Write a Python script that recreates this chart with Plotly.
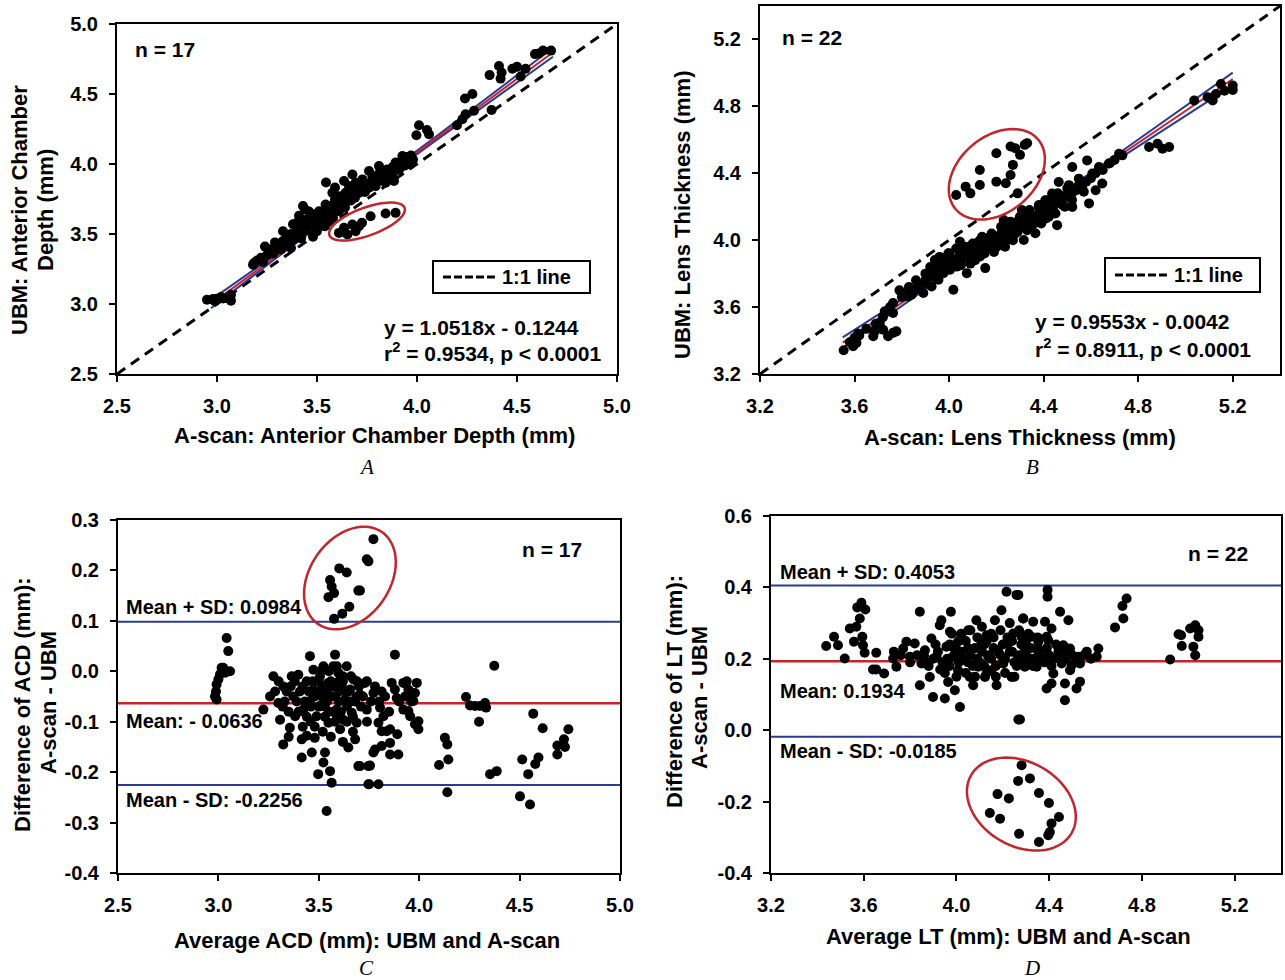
import math
import plotly.graph_objects as go

W, H = 1285, 980

# ------------------------------------------------------------------ data
acd_ticks = [2.5, 3.0, 3.5, 4.0, 4.5, 5.0]
lt_ticks = [3.2, 3.6, 4.0, 4.4, 4.8, 5.2]
acd_diff_ticks = [-0.4, -0.3, -0.2, -0.1, 0.0, 0.1, 0.2, 0.3]
lt_diff_ticks = [-0.4, -0.2, 0.0, 0.2, 0.4, 0.6]
acd_tick_labels = ["2.5", "3.0", "3.5", "4.0", "4.5", "5.0"]
lt_tick_labels = ["3.2", "3.6", "4.0", "4.4", "4.8", "5.2"]
acd_diff_labels = ["-0.4", "-0.3", "-0.2", "-0.1", "0.0", "0.1", "0.2", "0.3"]
lt_diff_labels = ["-0.4", "-0.2", "0.0", "0.2", "0.4", "0.6"]

# Panel A: (A-scan ACD, UBM ACD)
acd_points = [
    (2.95, 3.03), (2.98, 3.035), (3.0, 3.037), (3.03, 3.04), (3.04, 3.042), (3.06, 3.042),
    (3.07, 3.023), (3.07, 3.066), (2.99, 3.02), (3.02, 3.05),
    (3.18, 3.28), (3.185, 3.293), (3.23, 3.30), (3.24, 3.41), (3.26, 3.37), (3.29, 3.44),
    (3.33, 3.52), (3.32, 3.39), (3.36, 3.44), (3.38, 3.57), (3.39, 3.48), (3.41, 3.63),
    (3.43, 3.70), (3.44, 3.675), (3.46, 3.58), (3.48, 3.48), (3.49, 3.60), (3.53, 3.65),
    (3.54, 3.555), (3.56, 3.70), (3.58, 3.615), (3.59, 3.747), (3.61, 3.663),
    (3.3, 3.40), (3.35, 3.47), (3.37, 3.5), (3.4, 3.52), (3.42, 3.55), (3.45, 3.53),
    (3.47, 3.56), (3.5, 3.58), (3.52, 3.6), (3.55, 3.62), (3.57, 3.66), (3.6, 3.68),
    (3.62, 3.7), (3.44, 3.6), (3.5, 3.64), (3.53, 3.56), (3.4, 3.58), (3.28, 3.36),
    (3.33, 3.45), (3.46, 3.66), (3.56, 3.6), (3.63, 3.72), (3.65, 3.75), (3.66, 3.78),
    (3.68, 3.8), (3.7, 3.82), (3.72, 3.84), (3.75, 3.86), (3.78, 3.88), (3.8, 3.9),
    (3.82, 3.93), (3.85, 3.96), (3.88, 3.98), (3.9, 4.0), (3.93, 4.03), (3.95, 4.05),
    (3.97, 4.06), (3.98, 4.03), (3.96, 4.0), (3.94, 3.99), (3.91, 3.96), (3.87, 3.93),
    (3.84, 3.9), (3.79, 3.85), (3.74, 3.8), (3.69, 3.76), (3.64, 3.69),
    (3.2, 3.31), (3.22, 3.33), (3.25, 3.35), (3.27, 3.39), (3.29, 3.38), (3.31, 3.42),
    (3.34, 3.42), (3.36, 3.48), (3.38, 3.46), (3.41, 3.5), (3.43, 3.52), (3.45, 3.56),
    (3.47, 3.6), (3.49, 3.56), (3.51, 3.6), (3.52, 3.63), (3.54, 3.66), (3.56, 3.65),
    (3.58, 3.7), (3.6, 3.72), (3.62, 3.74), (3.64, 3.76), (3.67, 3.74), (3.69, 3.8),
    (3.71, 3.83), (3.73, 3.86), (3.76, 3.83), (3.78, 3.9), (3.81, 3.93), (3.83, 3.88),
    (3.86, 3.92), (3.89, 3.95), (3.92, 3.98), (3.95, 4.02), (3.48, 3.64), (3.55, 3.68),
    (3.61, 3.74), (3.5, 3.52), (3.42, 3.47), (3.37, 3.4),
    (3.51, 3.663), (3.543, 3.71), (3.577, 3.794), (3.61, 3.77), (3.635, 3.878),
    (3.677, 3.925), (3.693, 3.866), (3.727, 3.89), (3.76, 3.95), (3.777, 3.913),
    (3.81, 3.985), (3.827, 3.938), (3.86, 3.95), (3.885, 3.878), (3.893, 4.01),
    (3.927, 4.057), (3.952, 4.02), (3.977, 4.033), (3.918, 3.985), (3.71, 3.794),
    (3.743, 3.842), (3.643, 3.794), (3.593, 3.734), (3.66, 3.842), (3.843, 3.866),
    (3.877, 3.913), (3.793, 3.842), (3.545, 3.868), (3.59, 3.832),
    (4.01, 4.277), (4.05, 4.243), (3.997, 4.205), (4.06, 4.212), (4.243, 4.355),
    (4.227, 4.32), (4.20, 4.277), (4.285, 4.38), (4.373, 4.386), (4.24, 4.468),
    (4.277, 4.50), (4.363, 4.635), (4.41, 4.70), (4.423, 4.654), (4.418, 4.61),
    (4.477, 4.68), (4.50, 4.694), (4.543, 4.68), (4.518, 4.625), (4.59, 4.785),
    (4.63, 4.81), (4.67, 4.81), (4.61, 4.79),
]
acd_outliers = [
    (3.627, 3.52), (3.652, 3.496), (3.61, 3.508), (3.635, 3.544), (3.677, 3.567),
    (3.71, 3.555), (3.693, 3.52), (3.725, 3.58), (3.768, 3.627), (3.843, 3.646),
    (3.893, 3.651),
]

# Panel B: (A-scan LT, UBM LT)
lt_points = [
    (3.554, 3.342), (3.594, 3.366), (3.608, 3.386), (3.615, 3.442), (3.6, 3.416),
    (3.679, 3.426), (3.686, 3.455), (3.707, 3.505), (3.721, 3.465), (3.742, 3.426),
    (3.763, 3.446), (3.777, 3.455), (3.728, 3.575), (3.763, 3.624), (3.763, 3.565),
    (3.827, 3.664), (3.841, 3.674), (3.876, 3.704), (3.891, 3.684), (3.905, 3.743),
    (3.919, 3.783), (3.926, 3.723), (3.947, 3.842), (3.955, 3.763), (3.976, 3.803),
    (3.997, 3.922), (4.004, 3.823), (4.018, 3.704), (4.032, 3.842), (4.046, 3.991),
    (4.061, 3.902), (4.075, 3.803), (4.089, 3.942), (4.117, 3.981), (4.131, 3.902),
    (4.153, 3.833), (4.174, 4.021), (4.202, 3.961), (4.231, 4.12), (4.245, 4.001),
    (4.28, 4.061), (4.301, 4.14), (4.316, 4.001), (3.94, 3.882),
    (3.96, 3.82), (3.98, 3.86), (4.0, 3.87), (4.02, 3.88), (4.04, 3.9), (4.06, 3.93),
    (4.08, 3.9), (4.1, 3.95), (4.12, 3.94), (4.14, 3.97), (4.16, 3.99), (4.18, 3.98),
    (4.2, 4.02), (4.22, 4.04), (4.24, 4.05), (4.26, 4.08), (4.28, 4.1), (4.3, 4.09),
    (4.32, 4.12), (4.34, 4.14), (4.36, 4.13), (4.38, 4.16), (4.4, 4.18), (4.42, 4.2),
    (4.44, 4.22), (4.46, 4.24), (4.48, 4.25), (4.5, 4.27), (4.52, 4.28), (4.54, 4.3),
    (4.56, 4.32), (4.58, 4.35), (3.99, 3.9), (4.05, 3.85), (4.11, 3.88), (4.15, 3.92),
    (4.19, 3.93), (4.21, 3.99), (4.25, 4.02), (4.27, 4.0), (4.33, 4.06), (4.35, 4.09),
    (4.39, 4.1), (4.41, 4.13), (4.45, 4.16), (4.49, 4.2), (3.93, 3.8), (3.9, 3.76),
    (3.87, 3.73), (3.85, 3.7), (3.81, 3.68), (3.95, 3.86), (4.07, 3.96), (4.13, 4.0),
    (4.23, 4.08), (4.29, 4.05),
    (3.9, 3.8), (3.92, 3.84), (3.94, 3.78), (3.96, 3.9), (3.98, 3.83), (4.0, 3.92),
    (4.01, 3.85), (4.03, 3.95), (4.05, 3.88), (4.07, 3.92), (4.09, 3.86), (4.1, 3.98),
    (4.12, 3.91), (4.14, 4.02), (4.16, 3.95), (4.18, 4.04), (4.2, 3.98), (4.22, 4.08),
    (4.24, 4.0), (4.26, 4.11), (4.28, 4.04), (4.3, 4.14), (4.32, 4.08), (4.34, 4.18),
    (4.36, 4.1), (4.38, 4.21), (4.4, 4.14), (4.42, 4.24), (4.44, 4.18), (4.46, 4.28),
    (4.48, 4.21), (4.5, 4.31), (4.52, 4.24), (4.55, 4.33), (4.57, 4.29), (4.6, 4.37),
    (4.62, 4.4), (4.65, 4.42), (4.68, 4.46), (4.7, 4.48), (3.86, 3.76), (3.83, 3.72),
    (3.8, 3.66), (3.79, 3.7), (3.75, 3.6), (3.72, 3.54), (3.69, 3.5), (3.65, 3.47),
    (3.62, 3.43), (3.58, 3.39),
    (4.223, 4.041), (4.237, 3.961), (4.266, 4.08), (4.294, 4.12), (4.308, 4.18),
    (4.337, 4.16), (4.365, 4.041), (4.379, 4.199), (4.407, 4.239), (4.422, 4.14),
    (4.436, 4.279), (4.45, 4.22), (4.457, 4.09), (4.464, 4.348), (4.492, 4.259),
    (4.507, 4.329), (4.521, 4.199), (4.521, 4.438), (4.549, 4.368), (4.563, 4.318),
    (4.584, 4.477), (4.592, 4.22), (4.606, 4.398), (4.62, 4.299), (4.634, 4.438),
    (4.648, 4.339), (4.676, 4.458), (4.719, 4.517), (4.733, 4.507), (4.846, 4.557),
    (4.882, 4.577), (4.903, 4.547), (4.931, 4.557), (5.037, 4.835), (5.094, 4.854),
    (5.115, 4.835), (5.15, 4.934), (5.165, 4.894), (5.2, 4.924), (5.2, 4.898),
    (5.129, 4.874),
]
lt_outliers = [
    (4.03, 4.27), (4.07, 4.32), (4.09, 4.28), (4.13, 4.42), (4.13, 4.33), (4.20, 4.52),
    (4.20, 4.35), (4.24, 4.34), (4.26, 4.39), (4.27, 4.45), (4.26, 4.56), (4.28, 4.55),
    (4.30, 4.51), (4.32, 4.57), (4.33, 4.58), (4.29, 4.28),
]

# Panel C: (average ACD, difference A-scan - UBM)
acd_ba_points = [
    (3.041, 0.066), (3.049, 0.040), (3.058, 0.0), (3.016, 0.007), (3.008, -0.006),
    (3.0, -0.016), (2.991, -0.026), (2.988, -0.04), (2.983, -0.05), (2.991, -0.056),
    (3.033, -0.003), (3.024, 0.007),
    (3.224, -0.076), (3.274, -0.01), (3.257, -0.05), (3.282, -0.04), (3.298, -0.063),
    (3.307, -0.096), (3.323, -0.03), (3.323, -0.145), (3.356, -0.112), (3.365, -0.01),
    (3.373, -0.05), (3.382, -0.089), (3.398, -0.007), (3.406, -0.04), (3.415, -0.135),
    (3.415, -0.171), (3.423, -0.076), (3.44, -0.02), (3.44, -0.128), (3.456, 0.030),
    (3.456, -0.059), (3.465, -0.161), (3.473, 0.003), (3.473, -0.036), (3.48, -0.132),
    (3.489, -0.089), (3.497, -0.204), (3.506, -0.01), (3.514, -0.066), (3.523, 0.010),
    (3.523, -0.181), (3.531, -0.161), (3.539, -0.277), (3.548, -0.023), (3.548, -0.102),
    (3.556, -0.198), (3.564, -0.221), (3.564, -0.05), (3.572, 0.010), (3.581, 0.033),
    (3.589, -0.076), (3.597, -0.003), (3.606, -0.115), (3.614, -0.03), (3.622, -0.096),
    (3.631, -0.056), (3.639, 0.010), (3.647, -0.151), (3.656, -0.036), (3.664, -0.082),
    (3.672, -0.016), (3.681, -0.135), (3.689, -0.102), (3.689, -0.05), (3.697, -0.188),
    (3.73, -0.023), (3.739, -0.076), (3.747, -0.224), (3.747, -0.188),
    (3.48, -0.05), (3.5, -0.04), (3.52, -0.03), (3.54, -0.06), (3.56, -0.02), (3.58, -0.05),
    (3.6, -0.06), (3.62, -0.02), (3.5, -0.07), (3.53, -0.09), (3.57, -0.08), (3.6, -0.04),
    (3.64, -0.07), (3.66, -0.01), (3.68, -0.06), (3.7, -0.03), (3.45, -0.04), (3.43, -0.06),
    (3.39, -0.06), (3.35, -0.08), (3.33, -0.06), (3.47, -0.02), (3.51, 0.0), (3.55, 0.0),
    (3.59, 0.01), (3.62, -0.01), (3.65, -0.04), (3.54, -0.04), (3.58, -0.1), (3.61, -0.08),
    (3.52, -0.12), (3.46, -0.1),
    (3.3, -0.02), (3.32, -0.07), (3.34, -0.04), (3.36, -0.03), (3.38, -0.02), (3.4, -0.08),
    (3.42, -0.03), (3.44, -0.09), (3.46, -0.07), (3.48, -0.11), (3.5, -0.02), (3.52, -0.05),
    (3.53, -0.07), (3.55, -0.08), (3.57, -0.03), (3.59, -0.09), (3.6, -0.02), (3.63, -0.04),
    (3.64, -0.1), (3.66, -0.06), (3.67, -0.09), (3.69, -0.02), (3.71, -0.07), (3.72, -0.05),
    (3.74, -0.1), (3.76, -0.06), (3.78, -0.03), (3.8, -0.06), (3.83, -0.05), (3.85, -0.08),
    (3.9, -0.06), (3.93, -0.05), (3.96, -0.06), (3.35, -0.13), (3.42, -0.11), (3.56, -0.13),
    (3.62, -0.14), (3.67, -0.12),
    (3.879, 0.033), (3.739, -0.02), (3.772, -0.043), (3.813, -0.04), (3.863, -0.023),
    (3.705, -0.046), (3.805, -0.072), (3.822, -0.089), (3.797, -0.102), (3.813, -0.119),
    (3.838, -0.119), (3.855, -0.115), (3.891, -0.125), (3.855, -0.142), (3.813, -0.148),
    (3.78, -0.155), (3.772, -0.161), (3.855, -0.165), (3.896, -0.165), (3.755, -0.187),
    (3.705, -0.188), (3.751, -0.224), (3.797, -0.224), (3.879, -0.036), (3.888, -0.053),
    (3.921, -0.023), (3.938, -0.02), (3.946, -0.036), (3.955, -0.046), (3.988, -0.023),
    (3.979, -0.043), (3.971, -0.059), (3.921, -0.076), (3.946, -0.079), (3.955, -0.089),
    (3.979, -0.105), (3.996, -0.099), (3.996, -0.115),
    (4.128, -0.132), (4.14, -0.145), (4.145, -0.175), (4.099, -0.186), (4.14, -0.24),
    (4.233, -0.051), (4.253, -0.068), (4.278, -0.069), (4.303, -0.069), (4.328, -0.063),
    (4.333, -0.072), (4.298, -0.1), (4.374, 0.011), (4.353, -0.204), (4.386, -0.198),
    (4.568, -0.084), (4.615, -0.113), (4.513, -0.175), (4.543, -0.204), (4.578, -0.184),
    (4.594, -0.171), (4.502, -0.248), (4.552, -0.264), (4.688, -0.165), (4.688, -0.147),
    (4.721, -0.135), (4.726, -0.15), (4.743, -0.115),
]
acd_ba_outliers = [
    (3.556, 0.181), (3.564, 0.168), (3.576, 0.155), (3.548, 0.147), (3.602, 0.204),
    (3.639, 0.196), (3.697, 0.160), (3.739, 0.222), (3.652, 0.128), (3.617, 0.114),
    (3.576, 0.104), (3.772, 0.262), (3.747, 0.218), (3.705, 0.160),
]

# Panel D: (average LT, difference A-scan - UBM)
lt_ba_points = [
    (3.438, 0.236), (3.472, 0.262), (3.489, 0.238), (3.518, 0.201), (3.54, 0.285),
    (3.558, 0.248), (3.568, 0.29), (3.583, 0.313), (3.572, 0.344), (3.59, 0.357),
    (3.607, 0.338), (3.594, 0.262), (3.597, 0.238), (3.604, 0.217), (3.654, 0.217),
    (3.64, 0.17), (3.654, 0.17), (3.688, 0.159), (3.727, 0.201), (3.741, 0.178),
    (3.77, 0.229), (3.784, 0.248), (3.799, 0.206), (3.82, 0.243), (3.842, 0.332),
    (3.842, 0.126), (3.849, 0.187), (3.864, 0.224), (3.885, 0.149), (3.892, 0.257),
    (3.899, 0.093), (3.914, 0.206), (3.928, 0.294), (3.935, 0.308), (3.943, 0.168),
    (3.95, 0.089), (3.957, 0.234), (3.964, 0.135), (3.972, 0.276), (3.976, 0.332),
    (3.986, 0.206), (3.993, 0.112), (4.0, 0.243), (4.007, 0.168), (4.015, 0.065),
    (4.022, 0.262), (4.036, 0.196), (4.051, 0.28), (4.058, 0.149), (4.065, 0.224),
    (4.072, 0.126), (4.086, 0.308), (4.094, 0.178), (4.108, 0.243), (4.123, 0.149),
    (4.13, 0.266), (4.137, 0.206), (4.151, 0.168), (4.166, 0.308), (4.173, 0.126),
    (4.18, 0.224), (4.194, 0.336), (4.202, 0.187), (4.216, 0.388), (4.223, 0.243),
    (4.238, 0.149), (4.245, 0.271), (4.259, 0.379), (4.266, 0.206), (4.274, 0.03),
    (4.281, 0.262), (4.288, 0.313), (4.295, 0.178),
    (3.9, 0.2), (3.92, 0.22), (3.94, 0.19), (3.97, 0.24), (3.99, 0.21), (4.01, 0.25),
    (4.03, 0.2), (4.05, 0.23), (4.07, 0.18), (4.09, 0.26), (4.1, 0.19), (4.12, 0.24),
    (4.14, 0.21), (4.16, 0.26), (4.18, 0.22), (4.2, 0.19), (4.22, 0.26), (4.24, 0.22),
    (4.26, 0.18), (4.28, 0.24), (4.3, 0.21), (4.32, 0.23), (4.34, 0.2), (4.36, 0.22),
    (4.38, 0.19), (4.4, 0.21), (4.42, 0.2), (4.44, 0.22), (4.47, 0.2), (4.5, 0.21),
    (3.95, 0.16), (4.0, 0.15), (4.04, 0.16), (4.08, 0.15), (4.13, 0.16), (4.17, 0.15),
    (4.21, 0.16), (4.25, 0.15), (3.88, 0.18), (3.86, 0.21), (4.06, 0.28), (4.11, 0.29),
    (4.15, 0.27), (4.19, 0.28), (4.23, 0.3), (4.27, 0.28), (4.31, 0.27), (4.35, 0.26),
    (4.02, 0.27), (3.98, 0.27),
    (3.96, 0.2), (3.97, 0.18), (3.99, 0.23), (4.01, 0.19), (4.02, 0.22), (4.04, 0.25),
    (4.05, 0.19), (4.06, 0.21), (4.08, 0.23), (4.09, 0.2), (4.11, 0.22), (4.12, 0.18),
    (4.13, 0.25), (4.15, 0.2), (4.16, 0.23), (4.17, 0.18), (4.19, 0.21), (4.2, 0.24),
    (4.21, 0.2), (4.23, 0.22), (4.24, 0.25), (4.25, 0.19), (4.27, 0.21), (4.29, 0.19),
    (4.3, 0.25), (4.32, 0.2), (4.33, 0.18), (4.35, 0.23), (4.37, 0.2), (4.39, 0.23),
    (4.41, 0.18), (4.43, 0.24), (4.45, 0.2), (4.48, 0.22), (4.52, 0.2), (4.55, 0.21),
    (4.58, 0.2), (3.93, 0.17), (3.91, 0.24), (3.87, 0.19), (3.83, 0.21), (3.8, 0.19),
    (3.76, 0.21), (3.73, 0.22),
    (4.267, 0.379), (4.393, 0.393), (4.393, 0.374), (4.447, 0.332), (4.483, 0.308),
    (4.288, 0.313), (4.331, 0.304), (4.382, 0.304), (4.41, 0.285), (4.281, 0.266),
    (4.324, 0.262), (4.353, 0.248), (4.389, 0.262), (4.396, 0.252), (4.295, 0.229),
    (4.353, 0.22), (4.439, 0.234), (4.461, 0.238), (4.49, 0.229), (4.562, 0.22),
    (4.612, 0.229), (4.605, 0.206), (4.526, 0.206), (4.31, 0.201), (4.382, 0.201),
    (4.439, 0.206), (4.454, 0.187), (4.497, 0.182), (4.533, 0.187), (4.346, 0.178),
    (4.418, 0.159), (4.49, 0.168), (4.41, 0.131), (4.389, 0.117), (4.468, 0.131),
    (4.533, 0.136), (4.518, 0.117), (4.468, 0.084), (4.267, 0.03),
    (4.684, 0.288), (4.716, 0.348), (4.734, 0.369), (4.72, 0.313),
    (4.922, 0.198), (4.969, 0.266), (4.972, 0.236), (5.008, 0.285), (5.03, 0.294),
    (5.044, 0.28), (5.044, 0.262), (5.022, 0.234), (5.03, 0.21), (4.958, 0.269),
]
lt_ba_outliers = [
    (4.281, -0.098), (4.266, -0.142), (4.177, -0.179), (4.226, -0.191), (4.144, -0.232),
    (4.188, -0.248), (4.27, -0.29), (4.317, -0.135), (4.356, -0.176), (4.399, -0.204),
    (4.442, -0.243), (4.41, -0.261), (4.403, -0.285), (4.396, -0.294), (4.356, -0.313),
]

acd_slope, acd_icpt = 1.0518, -0.1244
lt_slope, lt_icpt = 0.9553, -0.0042
acd_fit_x = [2.97, 3.3, 3.7, 4.1, 4.68]
acd_band = [0.030, 0.014, 0.009, 0.014, 0.032]
lt_fit_x = [3.55, 3.9, 4.3, 4.7, 5.2]
lt_band = [0.032, 0.014, 0.008, 0.016, 0.038]

# Bland-Altman lines
acd_mean, acd_plus, acd_minus = -0.0636, 0.0984, -0.2256
lt_mean, lt_plus, lt_minus = 0.1934, 0.4053, -0.0185

# ------------------------------------------------------------------ layout geometry (pixels)
dom = {
    "A": dict(x0=117, x1=617, y0=24, y1=374, xr=[2.5, 5.0], yr=[2.5, 5.0]),
    "B": dict(x0=760, x1=1280, y0=6, y1=374, xr=[3.2, 5.4], yr=[3.2, 5.4]),
    "C": dict(x0=118, x1=620, y0=520, y1=873, xr=[2.5, 5.0], yr=[-0.4, 0.3]),
    "D": dict(x0=771, x1=1281, y0=516, y1=873, xr=[3.2, 5.4], yr=[-0.4, 0.6]),
}
axis_ids = {"A": ("x", "y"), "B": ("x2", "y2"), "C": ("x3", "y3"), "D": ("x4", "y4")}

BLUE = "#2b3a98"
RED = "#c8232b"
ELL = "#c0262c"
FONT = "Liberation Sans, Arial, sans-serif"


def bold(size):
    return dict(family=FONT, size=size, color="black", weight="bold")


fig = go.Figure()


def add_points(panel, pts):
    xa, ya = axis_ids[panel]
    fig.add_trace(go.Scatter(
        x=[p[0] for p in pts], y=[p[1] for p in pts], mode="markers",
        marker=dict(size=10, color="black", line=dict(width=0)),
        xaxis=xa, yaxis=ya, showlegend=False, hoverinfo="skip"))


def add_line(panel, xs, ys, color, width=2, dash="solid", name=None):
    xa, ya = axis_ids[panel]
    fig.add_trace(go.Scatter(
        x=xs, y=ys, mode="lines", line=dict(color=color, width=width, dash=dash),
        xaxis=xa, yaxis=ya, showlegend=False, name=name, hoverinfo="skip"))


# Panel A and B: 1:1 line, fit line and band
for panel, slope, icpt, fx, band in [
        ("A", acd_slope, acd_icpt, acd_fit_x, acd_band),
        ("B", lt_slope, lt_icpt, lt_fit_x, lt_band)]:
    r = dom[panel]["xr"]
    add_line(panel, r, r, "black", width=3, dash="10px,7px", name="1:1 line")
    fy = [slope * x + icpt for x in fx]
    add_line(panel, fx, [y + b for y, b in zip(fy, band)], BLUE, 2)
    add_line(panel, fx, [y - b for y, b in zip(fy, band)], BLUE, 2)
    add_line(panel, [fx[0], fx[-1]], [fy[0], fy[-1]], RED, 2)

# Panel C and D horizontal lines
for panel, m, p, n in [("C", acd_mean, acd_plus, acd_minus), ("D", lt_mean, lt_plus, lt_minus)]:
    r = dom[panel]["xr"]
    add_line(panel, r, [p, p], BLUE, 2)
    add_line(panel, r, [n, n], BLUE, 2)
    add_line(panel, r, [m, m], RED, 2.5)

add_points("A", acd_points + acd_outliers)
add_points("B", lt_points + lt_outliers)
add_points("C", acd_ba_points + acd_ba_outliers)
add_points("D", lt_ba_points + lt_ba_outliers)


# ellipses around outliers: center (data), semi-axes (px), angle (deg)
def ellipse_path(panel, cx, cy, a, b, ang, n=72):
    d = dom[panel]
    sx = (d["x1"] - d["x0"]) / (d["xr"][1] - d["xr"][0])
    sy = (d["y1"] - d["y0"]) / (d["yr"][1] - d["yr"][0])
    th = math.radians(ang)
    parts = []
    for i in range(n + 1):
        t = 2 * math.pi * i / n
        dx = a * math.cos(t) * math.cos(th) - b * math.sin(t) * math.sin(th)
        dy = a * math.cos(t) * math.sin(th) + b * math.sin(t) * math.cos(th)
        parts.append(("M" if i == 0 else "L") + f"{cx + dx / sx:.5f},{cy + dy / sy:.5f}")
    return " ".join(parts) + " Z"


ellipses = [("A", 3.75, 3.589, 40, 14, 20), ("B", 4.202, 4.394, 54, 38, 40),
            ("C", 3.655, 0.185, 56, 40, 55), ("D", 4.28, -0.207, 58, 42, -30)]
shapes = []
for panel, cx, cy, a, b, ang in ellipses:
    xa, ya = axis_ids[panel]
    shapes.append(dict(type="path", path=ellipse_path(panel, cx, cy, a, b, ang),
                       xref=xa, yref=ya, line=dict(color=ELL, width=2.5), layer="above"))


def px_x(v):
    return v / W


def px_y(v):
    return 1 - v / H


# "1:1 line" keys (box, dashed sample) drawn in paper coordinates
key_boxes = [(433, 261, 590, 293), (1105, 258, 1260, 292)]
for (x0, y0, x1, y1) in key_boxes:
    ym = (y0 + y1) / 2
    shapes.append(dict(type="rect", xref="paper", yref="paper", x0=px_x(x0), x1=px_x(x1),
                       y0=px_y(y1), y1=px_y(y0), line=dict(color="black", width=2),
                       fillcolor="white", layer="above"))
    shapes.append(dict(type="line", xref="paper", yref="paper", x0=px_x(x0 + 10),
                       x1=px_x(x0 + 63), y0=px_y(ym), y1=px_y(ym),
                       line=dict(color="black", width=3, dash="8px,3px"), layer="above"))

# axes
layout_axes = {}
ticks_for = {"A": (acd_ticks, acd_tick_labels, acd_ticks, acd_tick_labels),
             "B": (lt_ticks, lt_tick_labels, lt_ticks, lt_tick_labels),
             "C": (acd_ticks, acd_tick_labels, acd_diff_ticks, acd_diff_labels),
             "D": (lt_ticks, lt_tick_labels, lt_diff_ticks, lt_diff_labels)}
for panel, (xa, ya) in axis_ids.items():
    d = dom[panel]
    xt, xl, yt, yl = ticks_for[panel]
    common = dict(showgrid=False, zeroline=False, showline=True, linecolor="black",
                  linewidth=2, mirror=True, ticks="outside", ticklen=6, tickwidth=2,
                  tickcolor="black", tickfont=bold(20), automargin=False, tickmode="array")
    xkey = "xaxis" + xa[1:]
    ykey = "yaxis" + ya[1:]
    layout_axes[xkey] = dict(common, domain=[d["x0"] / W, d["x1"] / W], range=d["xr"],
                             tickvals=xt, ticktext=xl, anchor=ya, ticklabelstandoff=7)
    layout_axes[ykey] = dict(common, domain=[1 - d["y1"] / H, 1 - d["y0"] / H], range=d["yr"],
                             tickvals=yt, ticktext=yl, anchor=xa, ticklabelstandoff=7)


def ann(text, x, y, xanchor="left", size=20, angle=0, font=None):
    return dict(text=text, x=x / W, y=1 - y / H, xref="paper", yref="paper",
                xanchor=xanchor, yanchor="middle", showarrow=False, textangle=angle,
                font=font or bold(size))


italic = dict(family="Liberation Serif, Times New Roman, serif", size=21, color="black", style="italic")
annotations = [
    ann("n = 17", 133, 50, size=21),
    ann("y = 1.0518x - 0.1244", 382, 327, size=21),
    ann("r<sup>2</sup> = 0.9534, p < 0.0001", 382, 352, size=21),
    ann("n = 22", 780, 37, size=21),
    ann("y = 0.9553x - 0.0042", 1033, 321, size=21),
    ann("r<sup>2</sup> = 0.8911, p < 0.0001", 1033, 348, size=21),
    ann("1:1 line", 500, 277, size=20),
    ann("1:1 line", 1172, 275, size=20),
    ann("n = 17", 520, 549, size=21),
    ann("Mean + SD: 0.0984", 124, 607),
    ann("Mean: - 0.0636", 124, 721),
    ann("Mean - SD: -0.2256", 124, 800),
    ann("n = 22", 1186, 553, size=21),
    ann("Mean + SD: 0.4053", 778, 572),
    ann("Mean: 0.1934", 778, 691),
    ann("Mean - SD: -0.0185", 778, 751),
    ann("A-scan: Anterior Chamber Depth (mm)", 374, 435, "center", 22),
    ann("A-scan: Lens Thickness (mm)", 1020, 437, "center", 22),
    ann("Average ACD (mm): UBM and A-scan", 367, 940, "center", 22),
    ann("Average LT (mm): UBM and A-scan", 1008, 936, "center", 22),
    ann("UBM: Anterior Chamber", 19, 210, "center", 22, -90),
    ann("Depth (mm)", 45, 210, "center", 22, -90),
    ann("UBM: Lens Thickness (mm)", 683, 215, "center", 22, -90),
    ann("Difference of ACD (mm):", 22, 705, "center", 22, -90),
    ann("A-scan - UBM", 48, 703, "center", 22, -90),
    ann("Difference of LT (mm):", 674, 692, "center", 22, -90),
    ann("A-scan - UBM", 699, 697, "center", 22, -90),
    ann("A", 366, 467, "center", font=italic),
    ann("B", 1032, 467, "center", font=italic),
    ann("C", 366, 968, "center", font=italic),
    ann("D", 1032, 968, "center", font=italic),
]

fig.update_layout(
    template="none",
    width=W, height=H, margin=dict(l=0, r=0, t=0, b=0, pad=0, autoexpand=False),
    paper_bgcolor="white", plot_bgcolor="white", showlegend=False,
    shapes=shapes, annotations=annotations,
    **layout_axes,
)

fig.write_html("out.html")
